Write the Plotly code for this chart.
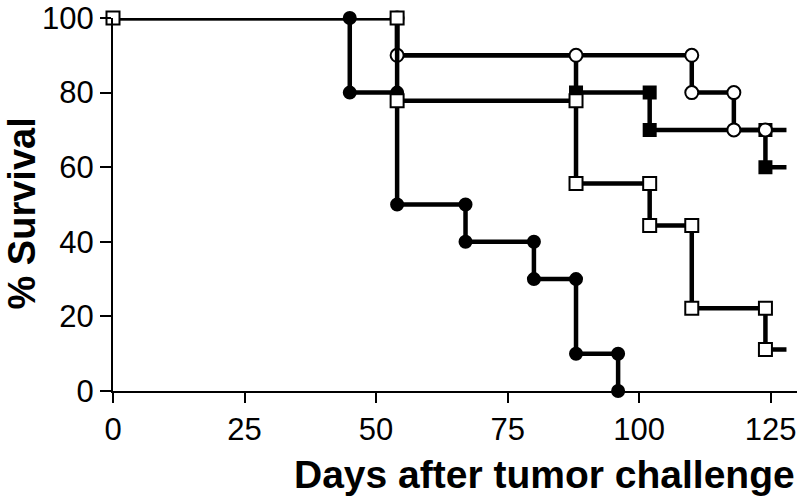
import plotly.graph_objects as go

# Kaplan-Meier step data (event day, % survival after the step)
ctrl_days = [0, 45, 54, 67, 80, 88, 96]
ctrl_surv = [100, 80, 50, 40, 30, 10, 0]

fsq_days = [0, 54, 88, 102, 124]
fsq_surv = [100, 90, 80, 70, 60]
fsq_end = 128

osq_days = [0, 54, 88, 102, 110, 124]
osq_surv = [100, 77.8, 55.6, 44.4, 22.2, 11.1]
osq_end = 128

ocirc_days = [0, 54, 110, 118]
ocirc_surv = [100, 90, 80, 70]
ocirc_end = 128
ocirc_extra_days = [88, 124]
ocirc_extra_surv = [90, 70]

x_ticks = [0, 25, 50, 75, 100, 125]
y_ticks = [0, 20, 40, 60, 80, 100]


def steps(days, surv):
    xs, ys = [days[0]], [surv[0]]
    for i in range(1, len(days)):
        xs += [days[i], days[i]]
        ys += [surv[i - 1], surv[i]]
    return xs, ys


fig = go.Figure()


def add_series(days, surv, end, symbol, fill, size, skip=0, extra=None):
    xs, ys = steps(days, surv)
    lx, ly = list(xs), list(ys)
    if end is not None:
        lx.append(end)
        ly.append(surv[-1])
    fig.add_trace(go.Scatter(x=lx, y=ly, mode="lines",
                             line=dict(color="black", width=4.5),
                             cliponaxis=False, hoverinfo="skip", showlegend=False))
    mx, my = list(xs)[skip:], list(ys)[skip:]
    if extra:
        mx += extra[0]
        my += extra[1]
    fig.add_trace(go.Scatter(x=mx, y=my, mode="markers",
                             marker=dict(symbol=symbol, size=size, color=fill,
                                         line=dict(color="black", width=2)),
                             cliponaxis=False, showlegend=False))


add_series(ctrl_days, ctrl_surv, None, "circle", "black", 12)
add_series(fsq_days, fsq_surv, fsq_end, "square", "black", 12, skip=4)
add_series(ocirc_days, ocirc_surv, ocirc_end, "circle", "white", 13, skip=1,
           extra=(ocirc_extra_days, ocirc_extra_surv))
add_series(osq_days, osq_surv, osq_end, "square", "white", 13)

fig.update_layout(
    width=798, height=499,
    margin=dict(l=113, r=1, t=13, b=108),
    paper_bgcolor="white", plot_bgcolor="white",
    font=dict(family="Liberation Sans, Arial, sans-serif", color="black"),
    xaxis=dict(range=[0, 130], tickvals=x_ticks, ticktext=[str(v) for v in x_ticks],
               showgrid=False, zeroline=False, showline=True, linecolor="black", linewidth=2,
               ticks="outside", ticklen=10, tickwidth=2, tickcolor="black",
               ticklabeloverflow="allow",
               tickfont=dict(size=31, color="black")),
    yaxis=dict(range=[0, 100], tickvals=y_ticks, ticktext=[str(v) for v in y_ticks],
               showgrid=False, zeroline=False, showline=True, linecolor="black", linewidth=2,
               ticks="outside", ticklen=11, tickwidth=2, tickcolor="black",
               ticklabeloverflow="allow",
               tickfont=dict(size=31, color="black")),
    annotations=[
        dict(text="<b>Days after tumor challenge</b>", xref="paper", yref="paper",
             x=1.0, y=-0.225, xanchor="right", yanchor="middle", showarrow=False,
             font=dict(size=39, color="black")),
        dict(text="<b>% Survival</b>", xref="paper", yref="paper",
             x=-0.133, y=0.476, xanchor="center", yanchor="middle", textangle=-90,
             showarrow=False, font=dict(size=38, color="black")),
    ],
)

fig.write_html("out.html", config={"displayModeBar": False},
               post_script="document.body.style.margin='0';document.body.style.padding='0';")
